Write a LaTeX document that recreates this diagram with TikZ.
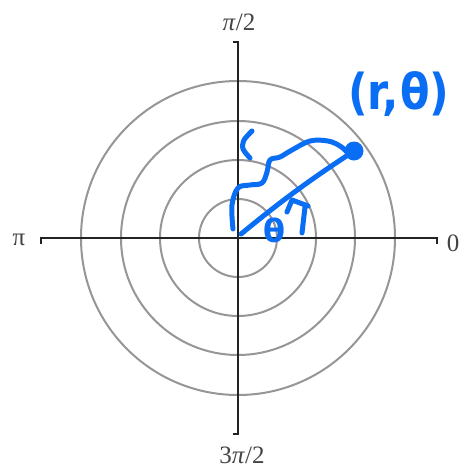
\documentclass[tikz,border=0pt]{standalone}
\usepackage{fontspec}
\setmainfont{Liberation Serif}
\newfontfamily\handfont{DejaVu Sans}
\definecolor{inkblue}{RGB}{10,110,245}
\definecolor{ringgray}{RGB}{150,150,150}
\definecolor{axisblack}{RGB}{35,35,35}
\begin{document}
\begin{tikzpicture}[x=1pt,y=-1pt,
  ring/.style={draw=ringgray,line width=2pt},
  axisline/.style={draw=axisblack,line width=1.8pt},
  anglelabel/.style={font=\fontsize{25}{25}\selectfont,text=axisblack!85,inner sep=0pt},
  ink/.style={draw=inkblue,line width=5pt,line cap=round,line join=round},
  inktext/.style={text=inkblue,inner sep=0pt,font=\handfont\bfseries}]
\useasboundingbox (0,0) rectangle (459,469);
\fill[white] (0,0) rectangle (459,469);
\coordinate (O) at (238,238);
% rings
\foreach \r in {39,78,117,157}{\draw[ring] (O) circle (\r);}
% axes with end ticks
\draw[axisline] (41,244) -- (41,238) -- (437,238) -- (437,244);
\draw[axisline] (233,42) -- (238,42) -- (238,434) -- (233,434);
% angle labels
\node[anglelabel] (top) at (239,22) {\textit{π}/2};
\node[anglelabel] (bottom) at (242,455) {3\textit{π}/2};
\node[anglelabel] (left) at (19,240) {π};
\node[anglelabel] (right) at (453,243) {0};
% blue annotations
\node[circle,fill=inkblue,minimum size=19pt,inner sep=0pt] (P) at (354,151) {};
\coordinate (O2) at (241,234);
\draw[ink] (O2) to[bend left=3] (P.center);
\draw[ink] plot[smooth,tension=0.6] coordinates {(233,229) (232,205) (238,188) (250,185) (262,183) (267,172) (270,160) (280,157) (292,150) (310,141) (328,141) (340,146) (347,152)};
\draw[ink] plot[smooth] coordinates {(252,131) (244,140) (243,149) (250,158)};
\draw[ink] (302,233) -- (305,207);
\draw[ink] (287,212) -- (292,200) -- (308,206);
\node[inktext,font=\handfont\bfseries\fontsize{32}{32}\selectfont] (thetaangle) at (274,230) {θ};
\node[inktext,font=\handfont\bfseries\fontsize{43}{43}\selectfont,anchor=west,yscale=1.15] (rtheta) at (348,94) {(r,\kern1pt θ)};
\end{tikzpicture}
\end{document}
